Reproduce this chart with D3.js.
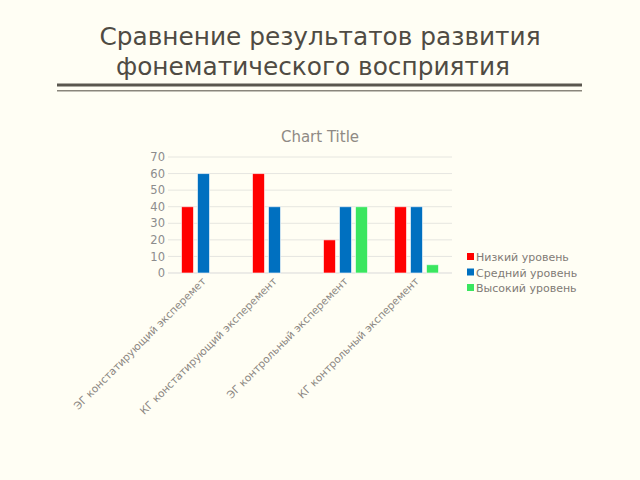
<!DOCTYPE html>
<html><head><meta charset="utf-8">
<script src="https://cdn.jsdelivr.net/npm/d3@7"></script>
<style>
html,body{margin:0;padding:0;background:#FFFEF4;}
svg{display:block;font-family:"DejaVu Sans",sans-serif;}
</style></head>
<body><svg id="c" width="640" height="480"></svg>
<script>
const categories = ["ЭГ констатирующий эксперемет","КГ констатирующий эксперемент","ЭГ контрольный эксперемент","КГ контрольный эксперемент"];
const seriesNames = ["Низкий уровень","Средний уровень","Высокий уровень"];
const low = [40, 60, 20, 40];
const mid = [60, 40, 40, 40];
const high = [0, 0, 40, 5];
const yTicks = [0,10,20,30,40,50,60,70];
const colors = ["#FF0000","#0070C0","#3AE65F"];

const svg = d3.select("#c");
svg.append("rect").attr("width",640).attr("height",480).attr("fill","#FFFEF4");

// heading
svg.append("text").attr("x",320).attr("y",45).attr("text-anchor","middle")
  .attr("font-size",24.8).attr("fill","#4F4B43").text("Сравнение результатов развития");
svg.append("text").attr("x",116).attr("y",75).attr("text-anchor","start")
  .attr("font-size",24.8).attr("fill","#4F4B43").text("фонематического восприятия");
svg.append("rect").attr("x",57).attr("y",83.5).attr("width",525).attr("height",3).attr("fill","#5A564E");
svg.append("rect").attr("x",57).attr("y",90).attr("width",525).attr("height",1.5).attr("fill","#8A867C");

svg.append("text").attr("x",320).attr("y",142).attr("text-anchor","middle")
  .attr("font-size",15).attr("fill","#8F8A85").text("Chart Title");

const series = [low, mid, high];
const x0 = d3.scaleBand().domain(categories).range([168,452]);
const x1 = d3.scaleBand().domain(seriesNames).range([0,44]).paddingInner(0.25);
const y = d3.scaleLinear().domain([0,70]).range([273,157]);

const g = svg.append("g");
g.selectAll("line.grid").data(yTicks).enter().append("line")
  .attr("x1",168).attr("x2",452).attr("y1",d=>y(d)).attr("y2",d=>y(d))
  .attr("stroke",d=>d===0?"#D9D9D9":"#E6E6E0").attr("stroke-width",1);

const yAxis = d3.axisLeft(y).tickValues(yTicks).tickSize(0).tickPadding(3);
const ya = svg.append("g").attr("transform","translate(168,0)").call(yAxis);
ya.select(".domain").remove();
ya.selectAll("text").attr("font-size",11.5).attr("fill","#8C8C8C").attr("font-family","DejaVu Sans");

categories.forEach((c,i)=>{
  const gx = x0(c) + x0.bandwidth()/2 - 22;
  seriesNames.forEach((s,j)=>{
    const v = series[j][i];
    if (v<=0) return;
    g.append("rect").attr("x",gx + x1(s)).attr("width",x1.bandwidth())
      .attr("y",y(v)).attr("height",y(0)-y(v))
      .attr("fill",colors[j]).attr("stroke","#FFFFFF").attr("stroke-opacity",0.6).attr("stroke-width",1);
  });
});

// x labels
categories.forEach(c=>{
  const cx = x0(c)+x0.bandwidth()/2 + 3;
  svg.append("text").attr("transform",`translate(${cx},282) rotate(-45)`)
    .attr("text-anchor","end").attr("font-size",10.5)
    .attr("fill","#8C8782").text(c);
});

// legend
seriesNames.forEach((s,j)=>{
  const ly = 257 + j*15.5;
  svg.append("rect").attr("x",467).attr("y",ly-4).attr("width",7).attr("height",7).attr("fill",colors[j]);
  svg.append("text").attr("x",476).attr("y",ly+4).attr("font-size",11).attr("fill","#7F7B76").text(s);
});
</script></body></html>
